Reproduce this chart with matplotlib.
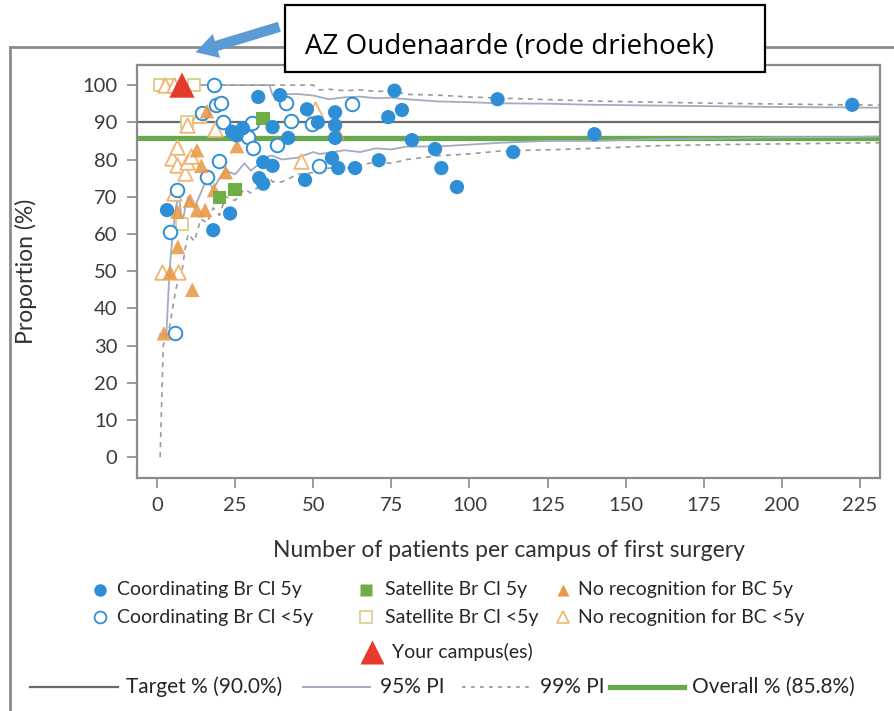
import matplotlib
matplotlib.use('Agg')
import matplotlib.pyplot as plt
from matplotlib.lines import Line2D
from matplotlib.patches import Rectangle, FancyArrowPatch

plt.rcParams['font.family'] = ['Lato', 'DejaVu Sans']

# ---------------- data ----------------
x_ticks = [0, 25, 50, 75, 100, 125, 150, 175, 200, 225]
y_ticks = [0, 10, 20, 30, 40, 50, 60, 70, 80, 90, 100]

target_pct = 90.0
overall_pct = 85.8

# prediction-interval funnel lines
pi_n = [1, 2, 3, 4, 5, 6, 7, 8, 9, 10, 12, 14, 16, 18, 20, 22, 25, 28, 30, 33, 36, 37,
        40, 45, 50, 52, 55, 60, 65, 70, 75, 80, 90, 100, 110, 125, 140, 160, 180, 200, 220, 232]
pi95_lo = [33, 33, 33, 50, 60, 67, 71, 62, 67, 70, 67, 71, 75, 72, 75, 77, 76, 79, 77, 79, 81, 81,
           80, 80.5, 82, 81.5, 81.8, 82.5, 82, 83, 82.7, 83.5, 83.5, 84, 84.5, 85, 85, 85.5, 85.6, 86, 86, 86.2]
pi95_hi = [100, 100, 100, 100, 100, 100, 100, 100, 100, 100, 100, 100, 100, 100, 100, 100, 100, 100, 100, 100, 100, 97.3,
           97.5, 97.6, 97.2, 96.8, 96.2, 96.7, 96.9, 96.5, 96.6, 96.2, 95.6, 95.4, 95.1, 95.0, 94.7, 94.5, 94.3, 94.1, 94.0, 93.9]
pi99_lo = [0, 30, 33, 35, 40, 45, 48, 50, 56, 60, 58, 64, 63, 67, 65, 70, 69, 72, 71, 73, 75, 74,
           74, 76, 76.5, 77.2, 77.7, 77.5, 78.5, 79.3, 79, 80, 81, 81.5, 82.3, 82.6, 83, 83.7, 84, 84.2, 84.4, 84.5]
pi99_hi = [100, 100, 100, 100, 100, 100, 100, 100, 100, 100, 100, 100, 100, 100, 100, 100, 100, 100, 100, 100, 100, 100,
           100, 100, 100, 98.7, 98.9, 98.5, 98.7, 98.3, 98.4, 97.5, 97.3, 96.8, 96.5, 96.1, 95.7, 95.4, 95.1, 94.9, 94.7, 94.6]

# Coordinating Br Cl 5y (filled circles)
coord5_n = [3.2, 18, 23.4, 24, 25.5, 27.5, 32.4, 32.7, 34, 34, 37, 37, 39.4, 42, 47.4, 48, 51.5,
            56, 57, 57, 57, 58, 63.4, 71, 74, 76, 78.4, 81.6, 89, 91, 96, 109, 114, 140, 222.5]
coord5_y = [66.4, 61, 65.5, 87.5, 86.5, 88.4, 96.8, 75, 73.5, 79.3, 78.3, 88.7, 97.3, 85.8, 74.5, 93.5, 90,
            80.4, 92.7, 89.2, 85.8, 77.7, 77.7, 79.8, 91.4, 98.5, 93.3, 85.2, 82.8, 77.7, 72.6, 96.2, 82, 86.8, 94.7]

# Coordinating Br Cl <5y (open circles)
coordlt5_n = [5.8, 4.2, 6.4, 16, 18.2, 19, 20.5, 14.4, 21, 20, 29, 30.4, 30.7, 38.4, 41.3, 43, 49.5, 51.7, 62.4]
coordlt5_y = [33.3, 60.5, 71.8, 75.3, 100, 94.6, 95.2, 92.5, 90, 79.6, 86, 89.8, 83, 83.9, 95.1, 90.3, 89.5, 78.3, 94.8]

# Satellite Br Cl 5y (filled squares)
sat5_n = [20, 25, 34]
sat5_y = [69.8, 72, 91]

# Satellite Br Cl <5y (open squares)
satlt5_n = [1, 4, 12, 9.6, 8]
satlt5_y = [100, 100, 100, 90, 62.7]

# No recognition for BC 5y (filled triangles)
nr5_n = [2.2, 4.2, 6.7, 11.3, 6.5, 10.6, 12.8, 15.4, 18.3, 14.2, 22, 12.8, 25.6, 16, 57.8]
nr5_y = [33.3, 49.7, 56.5, 45, 66, 69, 66.4, 66.4, 71.8, 78.3, 76.6, 82.5, 83.6, 93, 87.2]

# No recognition for BC <5y (open triangles)
nrlt5_n = [2.5, 5.5, 1.5, 6.7, 5.4, 4.8, 6.4, 6.4, 9, 9.6, 11, 9.6, 13.4, 18.5, 46, 50.6]
nrlt5_y = [100, 100, 49.7, 49.7, 71, 80.4, 78.5, 83.3, 76.3, 79.3, 81, 89.2, 92, 88.2, 79.5, 93.5]

# Your campus
your_n = [8]
your_y = [100]

# ---------------- styles ----------------
C_BLUE = '#2f8fd6'
C_GREEN = '#6fae45'
C_ORANGE = '#e89a4a'
C_OTRI = '#f2b470'
C_OSQ = '#ddd08c'
C_RED = '#e63b2c'
C_TARGET = '#6b6b6b'
C_95 = '#a3abbf'
C_99 = '#9a9a9a'
C_OVERALL = '#6aa84f'
C_SPINE = '#8a8a8a'

W, H = 895, 711
fig = plt.figure(figsize=(W / 100, H / 100), dpi=100)


def fx(px):
    return px / W


def fy(py):
    return 1 - py / H


ax = fig.add_axes([fx(137), fy(478), (880 - 137) / W, (478 - 65) / H])

# lines
ax.axhline(overall_pct, color=C_OVERALL, lw=3.8, zorder=1.5)
ax.axhline(target_pct, color=C_TARGET, lw=1.6, zorder=1.6)
ax.plot(pi_n, pi95_lo, color=C_95, lw=1.3, zorder=1.7)
ax.plot(pi_n, pi95_hi, color=C_95, lw=1.3, zorder=1.7)
ax.plot(pi_n, pi99_lo, color=C_99, lw=1.2, ls=(0, (3, 3)), zorder=1.7)
ax.plot(pi_n, pi99_hi, color=C_99, lw=1.2, ls=(0, (3, 3)), zorder=1.7)

# points
ax.scatter(satlt5_n, satlt5_y, marker='s', s=85, facecolor='white', edgecolor=C_OSQ, linewidths=1.4, zorder=3)
ax.scatter(nrlt5_n, nrlt5_y, marker='^', s=110, facecolor='white', edgecolor=C_OTRI, linewidths=1.3, zorder=3.1)
ax.scatter(coordlt5_n, coordlt5_y, marker='o', s=95, facecolor='white', edgecolor=C_BLUE, linewidths=1.4, zorder=3.2)
ax.scatter(nr5_n, nr5_y, marker='^', s=110, facecolor=C_ORANGE, edgecolor='none', alpha=0.9, zorder=3.3)
ax.scatter(sat5_n, sat5_y, marker='s', s=95, facecolor=C_GREEN, edgecolor='none', zorder=3.4)
ax.scatter(coord5_n, coord5_y, marker='o', s=105, facecolor=C_BLUE, edgecolor='none', zorder=3.5)
ax.scatter(your_n, your_y, marker='^', s=330, facecolor=C_RED, edgecolor='none', zorder=4)

ax.set_xlim(-6.4, 231.4)
ax.set_ylim(-5.6, 105.4)
ax.set_xticks(x_ticks)
ax.set_yticks(y_ticks)
ax.tick_params(axis='both', direction='out', length=7, width=1.2, color=C_SPINE,
               labelsize=14.5, labelcolor='#3a3a3a', pad=7)
for sp in ax.spines.values():
    sp.set_color(C_SPINE)
    sp.set_linewidth(1.6)

ax.set_xlabel('Number of patients per campus of first surgery', fontsize=16.5, color='#303030')
ax.xaxis.set_label_coords(0.5, -0.15)
ax.set_ylabel('Proportion (%)', fontsize=16.5, color='#303030')
ax.yaxis.set_label_coords(-0.135, 0.5)

# outer frame
fig.add_artist(Line2D([fx(10), fx(895)], [fy(47), fy(47)], color='#8c8c8c', lw=2))
fig.add_artist(Line2D([fx(10), fx(10)], [fy(47), fy(711)], color='#8c8c8c', lw=2))

# legend (manual)
TC = '#262626'


def leg_marker(x, y, **kw):
    fig.add_artist(Line2D([fx(x)], [fy(y)], ls='none', **kw))


def leg_text(x, y, s, fs=14):
    fig.text(fx(x), fy(y), s, fontsize=fs, color=TC, ha='left', va='center')


r1, r2, r3, r4 = 590, 617, 652, 687
leg_marker(100, r1, marker='o', ms=9, mfc=C_BLUE, mec='none')
leg_text(117, r1, 'Coordinating Br Cl 5y')
leg_marker(366, r1, marker='s', ms=8.5, mfc=C_GREEN, mec='none')
leg_text(385, r1, 'Satellite Br Cl 5y')
leg_marker(563, r1, marker='^', ms=9, mfc=C_ORANGE, mec='none')
leg_text(578, r1, 'No recognition for BC 5y')

leg_marker(100, r2, marker='o', ms=8.5, mfc='white', mec=C_BLUE, mew=1.3)
leg_text(117, r2, 'Coordinating Br Cl <5y')
leg_marker(366, r2, marker='s', ms=8, mfc='white', mec=C_OSQ, mew=1.3)
leg_text(385, r2, 'Satellite Br Cl <5y')
leg_marker(563, r2, marker='^', ms=9, mfc='white', mec=C_OTRI, mew=1.2)
leg_text(578, r2, 'No recognition for BC <5y')

leg_marker(372, r3, marker='^', ms=17, mfc=C_RED, mec='none')
leg_text(392, r3, 'Your campus(es)')

fig.add_artist(Line2D([fx(30), fx(118)], [fy(r4), fy(r4)], color=C_TARGET, lw=1.6))
leg_text(126, r4, 'Target % (90.0%)', 15)
fig.add_artist(Line2D([fx(303), fx(370)], [fy(r4), fy(r4)], color=C_95, lw=1.4))
leg_text(380, r4, '95% PI', 15)
fig.add_artist(Line2D([fx(462), fx(532)], [fy(r4), fy(r4)], color=C_99, lw=1.3, ls=(0, (2, 3))))
leg_text(540, r4, '99% PI', 15)
fig.add_artist(Line2D([fx(610), fx(684)], [fy(r4), fy(r4)], color=C_OVERALL, lw=3.8))
leg_text(692, r4, 'Overall % (85.8%)', 15)

# annotation box + arrow
fig.add_artist(Rectangle((fx(285), fy(72)), (765 - 285) / W, (72 - 5) / H, transform=fig.transFigure,
                         facecolor='white', edgecolor='black', lw=1.6, zorder=10))
fig.text(fx(305), fy(47), 'AZ Oudenaarde (rode driehoek)', fontsize=20, family=['Open Sans', 'DejaVu Sans'],
         color='black', ha='left', va='center', zorder=11)
fig.add_artist(FancyArrowPatch((fx(282), fy(26)), (fx(193), fy(53)), transform=fig.transFigure,
                               arrowstyle='simple,head_length=1.3,head_width=1.5,tail_width=0.62',
                               mutation_scale=12, color='#5b9bd5', lw=0, zorder=9))

fig.savefig('out.png', dpi=100)
